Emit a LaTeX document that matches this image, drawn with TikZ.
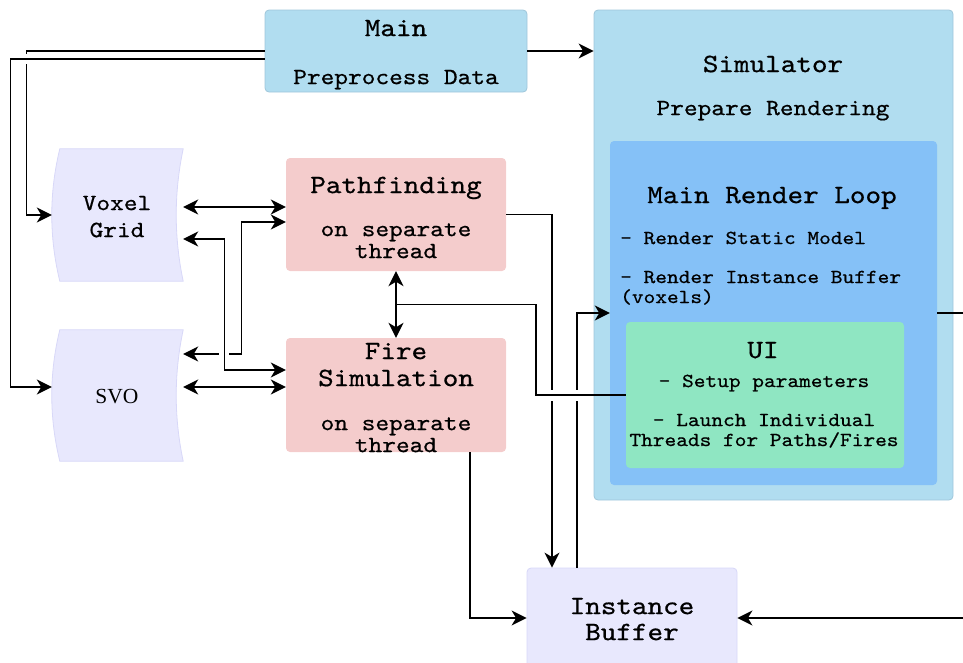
\documentclass[tikz,border=0pt]{standalone}
\usepackage{fontspec}
\usetikzlibrary{arrows.meta,calc}
\newfontfamily\cmono[Extension=.otf,FakeStretch=1.12,FakeBold=0.6]{lmmono10-regular}
\newfontfamily\cserif{Liberation Serif}
\definecolor{mainfill}{HTML}{B1DDF0}
\definecolor{mainline}{HTML}{9FC6DA}
\definecolor{mrlfill}{HTML}{85C1F7}
\definecolor{uifill}{HTML}{8FE6C2}
\definecolor{pinkfill}{HTML}{F4CCCC}
\definecolor{lavfill}{HTML}{E8E8FD}
\definecolor{lavline}{HTML}{D8D8F8}
\tikzset{
  box/.style={rectangle, rounded corners=4pt, inner sep=0pt, anchor=center},
  bluebox/.style={box, fill=mainfill, draw=mainline, line width=0.8pt},
  pinkbox/.style={box, fill=pinkfill},
  lavbox/.style={box, fill=lavfill, draw=lavline, line width=0.8pt},
  big/.style={inner sep=0pt, font=\cmono\fontsize{26.5}{26.5}\selectfont, text height=16.2pt, text depth=0pt},
  mid/.style={inner sep=0pt, font=\cmono\fontsize{23.3}{23.3}\selectfont, text height=14.2pt, text depth=0pt},
  sml/.style={inner sep=0pt, font=\cmono\fontsize{19.9}{19.9}\selectfont, text height=12.1pt, text depth=0pt},
  serif/.style={inner sep=0pt, font=\cserif\fontsize{21.5}{21.5}\selectfont, text height=14.2pt, text depth=0pt},
  conn/.style={line width=1.4pt, draw=black},
}
\newcommand\storedshape[1]{%
  \filldraw[fill=lavfill, draw=lavline, line width=0.8pt]
    ([xshift=8pt]#1.north west) -- (#1.north east)
    .. controls ($(#1.north east)!0.333!(#1.south east)+(-9.3,0)$) and ($(#1.north east)!0.667!(#1.south east)+(-9.3,0)$) .. (#1.south east)
    -- ([xshift=8pt]#1.south west)
    .. controls ($(#1.north west)!0.667!(#1.south west)+(-2.7,0)$) and ($(#1.north west)!0.333!(#1.south west)+(-2.7,0)$) .. ([xshift=8pt]#1.north west)
    -- cycle;}
\begin{document}
\begin{tikzpicture}[x=1pt,y=-1pt, >={Stealth[length=15pt,width=15pt,inset=4.5pt]}]
\useasboundingbox (0,0) rectangle (963,662);
\clip (0,0) rectangle (963,662);
% containers
\node[bluebox, minimum width=359pt, minimum height=490pt] (sim) at (773.5,255) {};
\node[box, fill=mrlfill, minimum width=327pt, minimum height=344pt] (mrl) at (773.5,313) {};
\node[box, fill=uifill, minimum width=278pt, minimum height=146pt] (ui) at (765,395) {};
\node[bluebox, minimum width=262pt, minimum height=82pt] (main) at (396,51) {};
\node[pinkbox, minimum width=220pt, minimum height=113pt] (pf) at (396,214.5) {};
\node[pinkbox, minimum width=220pt, minimum height=114pt] (fire) at (396,395) {};
\node[lavbox, minimum width=210pt, minimum height=100pt] (ib) at (632,618) {};
\node[inner sep=0pt, minimum width=131pt, minimum height=132pt] (voxel) at (117.5,215) {};
\node[inner sep=0pt, minimum width=131pt, minimum height=131pt] (svo) at (117.5,395.5) {};
\storedshape{voxel}
\storedshape{svo}
% labels
\node[big] (main-t) at (396,28) {Main};
\node[mid] (main-s) at (396,77) {Preprocess Data};
\node[big] (sim-t) at (773,64) {Simulator};
\node[mid] (sim-s) at (773,108) {Prepare Rendering};
\node[big] (mrl-t) at (772,195) {Main Render Loop};
\node[sml, anchor=west] (mrl-a) at (620,238) {- Render Static Model};
\node[sml, anchor=west] (mrl-b) at (620,277) {- Render Instance Buffer};
\node[sml, anchor=west] (mrl-c) at (620,297) {(voxels)};
\node[big] (ui-t) at (763,350) {UI};
\node[sml] (ui-a) at (764,381) {- Setup parameters};
\node[sml] (ui-b) at (764,420) {- Launch Individual};
\node[sml] (ui-c) at (764,440) {Threads for Paths/Fires};
\node[big] (pf-t) at (396,185) {Pathfinding};
\node[mid] (pf-a) at (396,229) {on separate};
\node[mid] (pf-b) at (396,251) {thread};
\node[big] (fire-t) at (396,351) {Fire};
\node[big] (fire-u) at (396,378) {Simulation};
\node[mid] (fire-a) at (396,423) {on separate};
\node[mid] (fire-b) at (396,445) {thread};
\node[big] (ib-t) at (632,606) {Instance};
\node[big] (ib-u) at (632,632) {Buffer};
\node[mid] (voxel-t) at (117,203) {Voxel};
\node[mid] (voxel-u) at (117,230) {Grid};
\node[serif] (svo-t) at (117,396) {SVO};
% connectors
\draw[conn,->] (main.east) -- (main.east -| sim.west);
\draw[conn,->] (main.west) -- ++(-238,0) |- (voxel.west);
\fill[white] (24,54) rectangle (30,64);
\draw[conn,->] ([yshift=-8pt]main.west) -- ++(-254,0) |- ([yshift=8.5pt]svo.west);
\draw[conn,<->] ([yshift=8pt]voxel.east) -- ([yshift=8pt]voxel.east -| pf.west);
\draw[conn,<->] ([yshift=41.5pt]svo.east) -- ++(58,0) |- ([yshift=-7.5pt]pf.west);
\fill[white] (219,350) rectangle (229,358);
\draw[conn,<->] ([yshift=-24pt]voxel.east) -- ++(41,0) |- ([yshift=25pt]fire.west);
\draw[conn,<->] ([yshift=8.5pt]svo.east) -- ([yshift=8.5pt]svo.east -| fire.west);
\draw[conn,->] (pf.east) -| ([xshift=-80pt]ib.north);
\draw[conn,->] ([xshift=-55pt]ib.north) |- (mrl.west);
\draw[conn,->] ([xshift=74pt]fire.south) |- (ib.west);
\draw[conn,->] (mrl.east) -- ++(40,0) |- (ib.east);
\fill[white] (549,390) rectangle (555,401);
\fill[white] (574,390) rectangle (580,401);
\coordinate (mid) at ($(pf.south)!0.5!(fire.north)$);
\draw[conn] (ui.west) -- ++(-90,0) |- (mid);
\draw[conn,<->] (pf.south) -- (fire.north);
\end{tikzpicture}
\end{document}
